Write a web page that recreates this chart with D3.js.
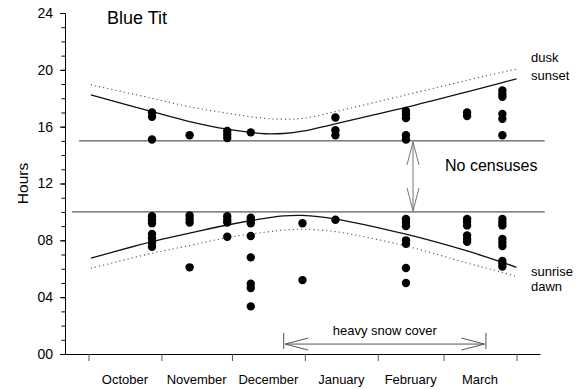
<!DOCTYPE html>
<html>
<head>
<meta charset="utf-8">
<script src="https://cdn.jsdelivr.net/npm/d3@7"></script>
<style>
  html, body { margin: 0; padding: 0; background: #fff; }
  svg { display: block; font-family: Arial, "Liberation Sans", sans-serif; }
</style>
</head>
<body>
<svg id="chart" width="578" height="390"></svg>
<script>
// Winter season, October to March
const D = (m, d) => new Date(Date.UTC(m >= 8 ? 2004 : 2005, m, d));

const monthStarts = [D(9,1), D(10,1), D(11,1), D(0,1), D(1,1), D(2,1), D(3,1)];
const monthLabels = ["October", "November", "December", "January", "February", "March"];

const yTicks = [0, 4, 8, 12, 16, 20, 24];

// Light curves (hours) sampled through the season
const curveDates = [D(9,2), D(9,28), D(10,13), D(10,29), D(11,15), D(11,23), D(11,31), D(0,14), D(1,13), D(2,11), D(2,26), D(3,1)];
const sunset  = [18.24, 17.06, 16.36, 15.82, 15.50, 15.52, 15.68, 16.20, 17.35, 18.45, 19.10, 19.37];
const dusk    = [18.94, 18.00, 17.40, 16.95, 16.58, 16.53, 16.58, 17.06, 18.24, 19.26, 19.84, 20.05];
const sunrise = [6.74, 7.91, 8.50, 9.08, 9.55, 9.72, 9.75, 9.50, 8.43, 7.25, 6.45, 6.10];
const dawn    = [6.03, 7.09, 7.63, 8.19, 8.57, 8.72, 8.78, 8.61, 7.60, 6.40, 5.75, 5.44];

// Census days and recorded activity times
const censusDates = [D(9,28), D(10,13), D(10,29), D(11,9), D(11,31), D(0,14), D(1,13), D(2,11), D(2,26)];
const eveningTimes = [
  [17.0, 16.7, 15.1],
  [15.4],
  [15.7, 15.45, 15.2],
  [15.6],
  [],
  [16.65, 15.75, 15.4],
  [17.1, 16.85, 16.6, 15.4, 15.1],
  [17.0, 16.75],
  [18.55, 18.3, 18.1, 16.9, 16.55, 15.4]
];
const morningTimes = [
  [9.7, 9.45, 9.2, 8.45, 8.15, 7.85, 7.55],
  [9.75, 9.5, 9.25, 6.1],
  [9.7, 9.45, 9.25, 8.25],
  [9.6, 9.4, 9.2, 8.3, 6.8, 4.95, 4.65, 3.35],
  [9.2, 5.2],
  [9.45],
  [9.5, 9.25, 9.0, 8.0, 7.75, 6.05, 5.0],
  [9.5, 9.3, 9.05, 8.35, 8.1, 7.9],
  [9.5, 9.25, 9.05, 8.1, 7.85, 7.6, 6.55, 6.35, 6.15]
];

// Census window limits and the no-census gap
const censusLimits = [15, 10];
const gapDate = D(1,16);
const snowStart = D(11,23), snowEnd = D(2,19), snowLevel = 0.7;

const svg = d3.select("#chart");

const x = d3.scaleUtc().domain([D(8,21), D(3,11)]).range([65, 540]);
const y = d3.scaleLinear().domain([0, 24]).range([354, 13]);

// Y axis: minor ticks every hour, labelled every four hours
svg.append("g").attr("transform", "translate(65,0)")
  .call(d3.axisLeft(y).tickValues(d3.range(0, 25)).tickSize(3.5).tickSizeOuter(0).tickFormat(""))
  .call(g => g.select(".domain").attr("stroke", "#000"));
svg.append("g").attr("transform", "translate(65,0)")
  .call(d3.axisLeft(y).tickValues(yTicks).tickSize(5).tickSizeOuter(0).tickPadding(7).tickFormat(d3.format("02d")))
  .call(g => g.selectAll("text").attr("font-size", 14).attr("fill", "#000").attr("font-family", "Arial, 'Liberation Sans', sans-serif"));

// X axis: month boundaries with labels between them
svg.append("g").attr("transform", "translate(0,354)")
  .call(d3.axisBottom(x).tickValues(monthStarts).tickSize(7).tickSizeOuter(0).tickFormat(""))
  .call(g => g.selectAll(".tick line").attr("stroke", "#555"));

svg.append("g").selectAll("text").data(monthLabels).join("text")
  .attr("x", (d, i) => (x(monthStarts[i]) + x(monthStarts[i + 1])) / 2)
  .attr("y", 383.5)
  .attr("text-anchor", "middle")
  .attr("font-size", 13)
  .text(d => d);

svg.append("text")
  .attr("transform", `translate(28,${y(12)}) rotate(-90)`)
  .attr("text-anchor", "middle")
  .attr("font-size", 15.5)
  .text("Hours");

svg.append("text").attr("x", 107).attr("y", 24).attr("font-size", 18).text("Blue Tit");

// Census limits
svg.append("g").selectAll("line").data(censusLimits).join("line")
  .attr("x1", (d, i) => i === 0 ? x(D(8,27)) : x(D(8,24)))
  .attr("x2", x(D(3,13)))
  .attr("y1", d => y(d)).attr("y2", d => y(d))
  .attr("stroke", "#333").attr("stroke-width", 1);

// Light curves
const line = d3.line().x((d, i) => x(curveDates[i])).y(d => y(d)).curve(d3.curveCatmullRom);
[[sunset, false], [sunrise, false], [dusk, true], [dawn, true]].forEach(([vals, dotted]) => {
  svg.append("path").attr("d", line(vals))
    .attr("fill", "none")
    .attr("stroke", dotted ? "#555" : "#111")
    .attr("stroke-width", dotted ? 1.1 : 1.3)
    .attr("stroke-dasharray", dotted ? "1.2,3" : null);
});

// Observations
const pts = [];
censusDates.forEach((d, i) => {
  eveningTimes[i].forEach(v => pts.push([d, v]));
  morningTimes[i].forEach(v => pts.push([d, v]));
});
svg.append("g").selectAll("circle").data(pts).join("circle")
  .attr("cx", d => x(d[0])).attr("cy", d => y(d[1])).attr("r", 4.2).attr("fill", "#000");

// Double arrow with open heads
function doubleArrow(x1, y1, x2, y2, len, half, color) {
  const g = svg.append("g").attr("stroke", color).attr("fill", "none").attr("stroke-width", 1);
  g.append("line").attr("x1", x1).attr("y1", y1).attr("x2", x2).attr("y2", y2);
  const a = Math.atan2(y2 - y1, x2 - x1);
  const head = (tx, ty, dir) => {
    const ux = Math.cos(a) * dir, uy = Math.sin(a) * dir;
    const px = -uy, py = ux;
    g.append("path").attr("d",
      `M${tx + ux * len + px * half},${ty + uy * len + py * half}L${tx},${ty}L${tx + ux * len - px * half},${ty + uy * len - py * half}`);
  };
  head(x1, y1, 1);
  head(x2, y2, -1);
}

doubleArrow(x(gapDate), y(censusLimits[0]) + 1, x(gapDate), y(censusLimits[1]) - 1, 23, 6, "#777");

svg.append("text").attr("x", 445).attr("y", y(12.85)).attr("font-size", 16).text("No censuses");

// Snow cover period
doubleArrow(x(snowStart) + 1.5, y(snowLevel), x(snowEnd) - 1.5, y(snowLevel), 23, 6, "#555");
svg.append("g").attr("stroke", "#555").selectAll("line").data([snowStart, snowEnd]).join("line")
  .attr("x1", d => x(d)).attr("x2", d => x(d))
  .attr("y1", y(1.48)).attr("y2", y(0.35));
svg.append("text").attr("x", (x(snowStart) + x(snowEnd)) / 2).attr("y", 335)
  .attr("text-anchor", "middle").attr("font-size", 13).text("heavy snow cover");

// Curve labels
[["dusk", 61.5], ["sunset", 79.5], ["sunrise", 275.5], ["dawn", 290.5]].forEach(([t, yy]) => {
  svg.append("text").attr("x", 531).attr("y", yy).attr("font-size", 13).text(t);
});
</script>
</body>
</html>
